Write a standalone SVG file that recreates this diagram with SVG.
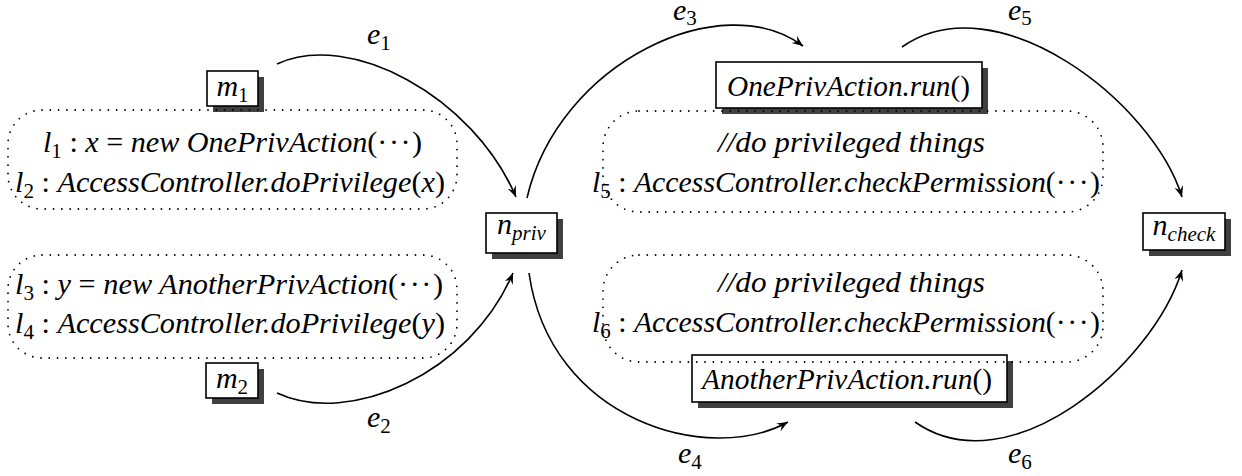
<svg xmlns="http://www.w3.org/2000/svg" width="1242" height="476" viewBox="0 0 1242 476">
<defs>
<style>
.t{font-family:'Liberation Serif','DejaVu Serif','Noto Serif',serif;font-style:italic;font-size:30px;fill:#000}
.u{font-style:normal}
.s{font-size:21px}
.d{letter-spacing:1.5px}
.box{fill:#fff;stroke:#000;stroke-width:1.6}
.sh{fill:#404040}
.dot{fill:none;stroke:#000;stroke-width:1.8;stroke-dasharray:0 8.3;stroke-linecap:round}
.edge{fill:none;stroke:#000;stroke-width:1.6;marker-end:url(#arr)}
</style>
<marker id="arr" markerUnits="userSpaceOnUse" markerWidth="12" markerHeight="10" refX="11" refY="4.5" orient="auto">
<path d="M0,0 L11,4.5 L0,9 L4,4.5 Z" fill="#000"/>
</marker>
</defs>
<rect width="1242" height="476" fill="#fff"/>

<g id="connectors">
<path class="edge" d="M277,64 C349.5,30.2 473,96 516,197"/>
<path class="edge" d="M277,393 C349.5,426.8 470,374 513,273"/>
<path class="edge" d="M527,198 C558.5,61.6 723,-14.2 803,46"/>
<path class="edge" d="M529,273 C549.9,421.5 709.3,465.6 788,422"/>
<path class="edge" d="M902,47 C996.2,-19 1152.8,101.4 1182,197"/>
<path class="edge" d="M915,422 C1009.2,488 1152.8,365.6 1182,270"/>
<text class="t" x="367" y="44">e<tspan class="s u" dy="6">1</tspan></text>
<text class="t" x="367" y="427">e<tspan class="s u" dy="6">2</tspan></text>
<text class="t" x="673" y="20">e<tspan class="s u" dy="5">3</tspan></text>
<text class="t" x="678" y="463">e<tspan class="s u" dy="6">4</tspan></text>
<text class="t" x="1008" y="20">e<tspan class="s u" dy="5">5</tspan></text>
<text class="t" x="1008" y="463">e<tspan class="s u" dy="6">6</tspan></text>
</g>

<g id="m1">
<rect class="sh" x="213" y="77" width="51" height="35"/>
<rect class="box" x="207" y="71" width="51" height="35"/>
<text class="t" x="232.5" y="96" text-anchor="middle">m<tspan class="s u" dy="6">1</tspan></text>
</g>

<g id="m2">
<rect class="sh" x="212" y="369" width="52" height="35"/>
<rect class="box" x="206" y="363" width="52" height="35"/>
<text class="t" x="232" y="388" text-anchor="middle">m<tspan class="s u" dy="6">2</tspan></text>
</g>

<g id="npriv">
<rect class="sh" x="492" y="219" width="71" height="40"/>
<rect class="box" x="486" y="213" width="71" height="40"/>
<text class="t" x="521.5" y="234" text-anchor="middle">n<tspan class="s" dy="6">priv</tspan></text>
</g>

<g id="ncheck">
<rect class="sh" x="1149" y="219" width="82" height="37"/>
<rect class="box" x="1143" y="213" width="82" height="37"/>
<text class="t" x="1184" y="235" text-anchor="middle">n<tspan class="s" dy="6">check</tspan></text>
</g>

<g id="onerun">
<rect class="sh" x="722" y="68" width="266" height="46"/>
<rect class="box" x="716" y="62" width="266" height="46"/>
<text class="t" x="727" y="96" textLength="243" lengthAdjust="spacingAndGlyphs">OnePrivAction.run<tspan class="u">()</tspan></text>
</g>

<g id="anotherrun">
<rect class="sh" x="698" y="361" width="315" height="47"/>
<rect class="box" x="692" y="355" width="315" height="47"/>
<text class="t" x="702" y="389" textLength="290" lengthAdjust="spacingAndGlyphs">AnotherPrivAction.run<tspan class="u">()</tspan></text>
</g>

<g id="block1">
<rect class="dot" x="8" y="110" width="449" height="99" rx="34" ry="34"/>
<text class="t" x="43" y="152" textLength="379" lengthAdjust="spacingAndGlyphs">l<tspan class="s u" dy="6">1</tspan><tspan class="u" dy="-6"> : </tspan>x<tspan class="u"> = </tspan>new OnePrivAction<tspan class="u">(<tspan class="d">···</tspan>)</tspan></text>
<text class="t" x="15" y="192" textLength="430" lengthAdjust="spacingAndGlyphs">l<tspan class="s u" dy="6">2</tspan><tspan class="u" dy="-6"> : </tspan>AccessController.doPrivilege<tspan class="u">(</tspan>x<tspan class="u">)</tspan></text>
</g>

<g id="block2">
<rect class="dot" x="8" y="255" width="449" height="103" rx="34" ry="34"/>
<text class="t" x="15" y="294" textLength="428" lengthAdjust="spacingAndGlyphs">l<tspan class="s u" dy="6">3</tspan><tspan class="u" dy="-6"> : </tspan>y<tspan class="u"> = </tspan>new AnotherPrivAction<tspan class="u">(<tspan class="d">···</tspan>)</tspan></text>
<text class="t" x="15" y="333" textLength="430" lengthAdjust="spacingAndGlyphs">l<tspan class="s u" dy="6">4</tspan><tspan class="u" dy="-6"> : </tspan>AccessController.doPrivilege<tspan class="u">(</tspan>y<tspan class="u">)</tspan></text>
</g>

<g id="block3">
<rect class="dot" x="603" y="111" width="500" height="101" rx="36" ry="36"/>
<text class="t" x="718" y="152" textLength="267" lengthAdjust="spacingAndGlyphs">//do privileged things</text>
<text class="t" x="592" y="192" textLength="508" lengthAdjust="spacingAndGlyphs">l<tspan class="s u" dy="6">5</tspan><tspan class="u" dy="-6"> : </tspan>AccessController.checkPermission<tspan class="u">(<tspan class="d">···</tspan>)</tspan></text>
</g>

<g id="block4">
<rect class="dot" x="603" y="255" width="500" height="107" rx="36" ry="36"/>
<text class="t" x="718" y="292" textLength="267" lengthAdjust="spacingAndGlyphs">//do privileged things</text>
<text class="t" x="592" y="332" textLength="508" lengthAdjust="spacingAndGlyphs">l<tspan class="s u" dy="6">6</tspan><tspan class="u" dy="-6"> : </tspan>AccessController.checkPermission<tspan class="u">(<tspan class="d">···</tspan>)</tspan></text>
</g>
</svg>
